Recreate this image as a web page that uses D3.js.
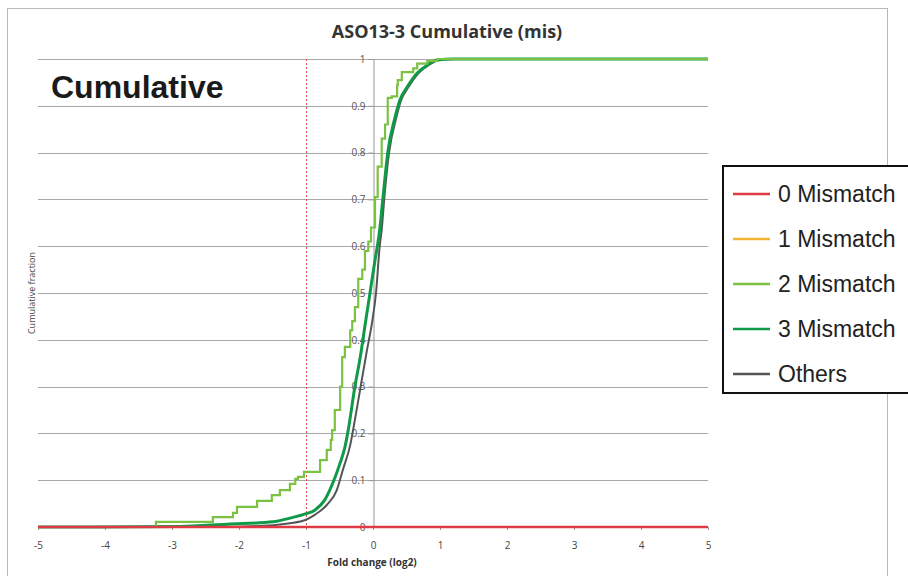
<!DOCTYPE html>
<html><head><meta charset="utf-8">
<script src="https://cdn.jsdelivr.net/npm/d3@7"></script>
<style>
body{margin:0;background:#fff;}
svg{display:block;}
</style></head>
<body><svg id="chart" width="908" height="576"></svg>
<script>
// ---- data ----
const seriesNames = ["0 Mismatch","1 Mismatch","2 Mismatch","3 Mismatch","Others"];
const seriesColors = ["#e03a45","#f0b432","#7cc242","#0f9a48","#555555"];

const mis0X = [-5, 5];
const mis0Y = [0, 0];

const mis1X = [-5, 5];
const mis1Y = [0, 0];

// 2 Mismatch (stepped)
const mis2X = [-5,-3.24,-2.39,-2.09,-2.03,-1.73,-1.51,-1.39,-1.24,-1.16,-1.12,-1.03,-0.79,-0.69,-0.63,-0.61,
  -0.57,-0.49,-0.46,-0.42,-0.34,-0.31,-0.27,-0.22,-0.16,-0.12,-0.07,-0.03,0.03,0.07,0.13,0.18,0.22,0.28,0.36,0.37,0.43,0.60,0.66,0.81,0.96,5];
const mis2Y = [0,0.011,0.021,0.030,0.043,0.056,0.068,0.079,0.092,0.103,0.107,0.118,0.143,0.165,0.186,0.207,
  0.25,0.30,0.363,0.385,0.42,0.44,0.47,0.53,0.55,0.59,0.61,0.64,0.705,0.77,0.83,0.86,0.917,0.92,0.944,0.955,0.972,0.98,0.99,0.996,1.0,1.0];

// 3 Mismatch
const mis3X = [-5,-2.88,-2.18,-1.49,-1.24,-1.01,-0.87,-0.72,-0.60,-0.49,-0.42,-0.37,-0.27,-0.19,-0.12,-0.045,0.03,0.10,0.15,0.22,0.33,0.40,0.51,0.66,0.81,0.96,1.2,5];
const mis3Y = [0,0.001,0.006,0.011,0.019,0.028,0.036,0.058,0.094,0.137,0.17,0.207,0.30,0.363,0.43,0.5,0.57,0.635,0.705,0.80,0.876,0.912,0.94,0.97,0.987,0.998,1,1];

// Others
const othX = [-5,-2.3,-1.49,-1.24,-1.01,-0.87,-0.69,-0.54,-0.45,-0.34,-0.27,-0.09,-0.015,0.045,0.10,0.13,0.17,0.24,0.35,0.42,0.53,0.68,0.83,0.98,1.2,5];
const othY = [0,0,0.004,0.008,0.015,0.026,0.047,0.079,0.122,0.175,0.229,0.378,0.436,0.5,0.6,0.635,0.705,0.80,0.876,0.912,0.94,0.97,0.987,0.998,1,1];

const xTicks = [-5,-4,-3,-2,-1,0,1,2,3,4,5];
const yTicks = [0,0.1,0.2,0.3,0.4,0.5,0.6,0.7,0.8,0.9,1];

// ---- drawing ----
const svg = d3.select("#chart");
const x = d3.scaleLinear().domain([-5,5]).range([38,708]);
const y = d3.scaleLinear().domain([0,1]).range([527,59]);

// outer chart border
svg.append("rect").attr("x",7.5).attr("y",8.5).attr("width",880).attr("height",580)
  .attr("fill","none").attr("stroke","#b8b8b8").attr("stroke-width",1);

// gridlines
svg.append("g").selectAll("line").data(yTicks.slice(1)).join("line")
  .attr("x1",x(-5)).attr("x2",x(5)).attr("y1",d=>Math.round(y(d))+0.5).attr("y2",d=>Math.round(y(d))+0.5)
  .attr("stroke","#a8a8a8").attr("stroke-width",1);

// x axis (at y=0)
const xAxis = svg.append("g").attr("transform",`translate(0,${y(0)})`)
  .call(d3.axisBottom(x).tickValues(xTicks).tickFormat(d=>String(d)).tickSize(3).tickPadding(12));
xAxis.select(".domain").attr("stroke","#999");
xAxis.selectAll(".tick line").attr("stroke","#999");
xAxis.selectAll("text").attr("font-family","'Open Sans',sans-serif").attr("font-size",10).attr("fill","#444");

// y axis (at x=0)
const yAxis = svg.append("g").attr("transform",`translate(${x(0)+0.5},0)`)
  .call(d3.axisLeft(y).tickValues(yTicks).tickFormat(d=>String(+d.toFixed(1))).tickSize(5).tickPadding(3));
yAxis.select(".domain").attr("stroke","#999");
yAxis.selectAll(".tick line").attr("stroke","#999");
yAxis.selectAll("text").attr("font-family","'Open Sans',sans-serif").attr("font-size",10).attr("fill","#555");

// red dotted line at x=-1
svg.append("line").attr("x1",x(-1)+0.5).attr("x2",x(-1)+0.5).attr("y1",y(1)).attr("y2",y(0))
  .attr("stroke","#e04a50").attr("stroke-width",1).attr("stroke-dasharray","2,2");

// series
const mk = (xs,ys)=>xs.map((v,i)=>[v,ys[i]]);
const lineLin = d3.line().x(d=>x(d[0])).y(d=>y(d[1])).curve(d3.curveMonotoneX);
const lineStep = d3.line().x(d=>x(d[0])).y(d=>y(d[1])).curve(d3.curveStepAfter);

svg.append("path").datum(mk(othX,othY)).attr("d",lineLin).attr("fill","none").attr("stroke",seriesColors[4]).attr("stroke-width",2);
svg.append("path").datum(mk(mis3X,mis3Y)).attr("d",lineLin).attr("fill","none").attr("stroke",seriesColors[3]).attr("stroke-width",3);
svg.append("path").datum(mk(mis2X,mis2Y)).attr("d",lineStep).attr("fill","none").attr("stroke",seriesColors[2]).attr("stroke-width",2.2);
svg.append("path").datum(mk(mis1X,mis1Y)).attr("d",lineLin).attr("fill","none").attr("stroke",seriesColors[1]).attr("stroke-width",2);
svg.append("path").datum(mk(mis0X,mis0Y)).attr("d",lineLin).attr("fill","none").attr("stroke",seriesColors[0]).attr("stroke-width",2.5);

// title
svg.append("text").attr("x",447).attr("y",38).attr("text-anchor","middle")
  .attr("font-family","'Open Sans','Liberation Sans',sans-serif").attr("font-weight","bold").attr("font-size",18).attr("fill","#333")
  .text("ASO13-3 Cumulative (mis)");

// big label
svg.append("text").attr("x",51).attr("y",98)
  .attr("font-family","'Liberation Sans',Arial,sans-serif").attr("font-weight","bold").attr("font-size",32).attr("fill","#1a1a1a")
  .text("Cumulative");

// axis titles
svg.append("text").attr("x",372).attr("y",566).attr("text-anchor","middle")
  .attr("font-family","'Open Sans',sans-serif").attr("font-weight","bold").attr("font-size",10).attr("fill","#333")
  .text("Fold change (log2)");
svg.append("text").attr("transform","translate(35,293) rotate(-90)").attr("text-anchor","middle")
  .attr("font-family","'Open Sans',sans-serif").attr("font-size",9).attr("fill","#444")
  .text("Cumulative fraction");

// legend
svg.append("rect").attr("x",723).attr("y",166).attr("width",200).attr("height",227)
  .attr("fill","#fff").attr("stroke","#111").attr("stroke-width",2);
const lg = svg.append("g").selectAll("g").data(seriesNames).join("g")
  .attr("transform",(d,i)=>`translate(0,${194+i*45})`);
lg.append("line").attr("x1",733).attr("x2",770).attr("y1",0).attr("y2",0)
  .attr("stroke",(d,i)=>seriesColors[i]).attr("stroke-width",2.5);
lg.append("text").attr("x",778).attr("y",8)
  .attr("font-family","'Liberation Sans',Arial,sans-serif").attr("font-size",23).attr("fill","#222")
  .text(d=>d);
</script></body></html>
